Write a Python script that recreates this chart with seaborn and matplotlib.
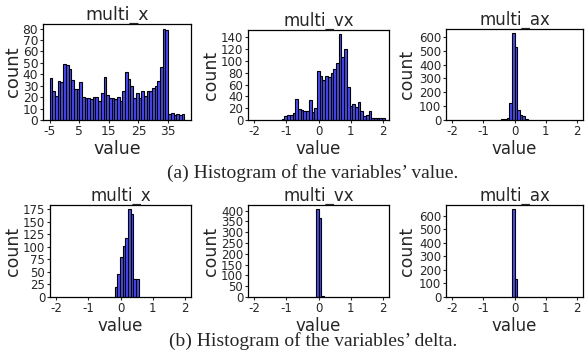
import numpy as np
import pandas as pd
import seaborn as sns
import matplotlib
matplotlib.use("Agg")
import matplotlib.pyplot as plt

# ---------------- data ----------------
# (a) histograms of the variables' value
value_x_range = [-5.0, 40.5]
value_x_counts = [37, 25, 21, 34, 33, 49, 48, 45, 35, 27,
                  27, 33, 20, 19, 19, 18, 20, 20, 17, 24,
                  38, 22, 19, 19, 18, 20, 17, 25, 42, 36,
                  30, 19, 24, 19, 25, 21, 25, 25, 28, 30,
                  34, 46, 80, 79, 5, 6, 4, 5, 4, 5]

value_vx_range = [-1.15, 2.07]
value_vx_counts = [2, 6, 9, 8, 12, 35, 18, 17, 15, 15,
                   33, 14, 20, 83, 74, 68, 75, 73, 80, 87,
                   96, 145, 107, 120, 55, 23, 27, 22, 31, 16,
                   7, 8, 16, 3, 3, 4, 4, 3]

value_ax_range = [-0.42, 0.42]
value_ax_counts = [4, 8, 12, 125, 625, 530, 75, 38, 27, 8]

# (b) histograms of the variables' delta
delta_x_range = [-0.18, 0.57]
delta_x_counts = [19, 46, 79, 102, 117, 175, 165, 35, 36]

delta_vx_range = [-0.084, 0.168]
delta_vx_counts = [406, 367, 6]

delta_ax_range = [-0.084, 0.168]
delta_ax_counts = [648, 133, 3]

titles = ["multi_x", "multi_vx", "multi_ax"]
x_label = "value"
y_label = "count"
caption_a = "(a) Histogram of the variables\u2019 value."
caption_b = "(b) Histogram of the variables\u2019 delta."

# ---------------- drawing ----------------
sns.set_theme(style="ticks")
plt.rcParams["font.family"] = ["DejaVu Sans"]
plt.rcParams["axes.unicode_minus"] = False

W, H = 585, 360
fig = plt.figure(figsize=(W / 100, H / 100), dpi=100)


def add_ax(l, t, r, b):
    return fig.add_axes([l / W, 1 - b / H, (r - l) / W, (b - t) / H])


def hist(ax, rng, counts, title, ylab_x, xticks=None, yticks=None,
         xlim=None, fs_title=12, fs_lab=12, fs_tick=8.5):
    n = len(counts)
    edges = [float(e) for e in np.linspace(rng[0], rng[1], n + 1)]
    centers = [(edges[i] + edges[i + 1]) / 2 for i in range(n)]
    df = pd.DataFrame({"value": centers, "count": counts})
    sns.histplot(data=df, x="value", weights="count", bins=edges, ax=ax,
                 color="#1010f0", edgecolor="black", alpha=0.75,
                 linewidth=0.8)
    ax.set_title(title, fontsize=fs_title, pad=1.5)
    ax.set_xlabel(x_label, fontsize=fs_lab, labelpad=1.5)
    ax.set_ylabel(y_label, fontsize=fs_lab + 0.5)
    if xticks is not None:
        ax.set_xticks(xticks)
    if yticks is not None:
        ax.set_yticks(yticks)
    if xlim is not None:
        ax.set_xlim(xlim)
    ax.tick_params(labelsize=fs_tick, length=2.5, width=0.8, pad=1)
    for s in ax.spines.values():
        s.set_linewidth(0.9)
        s.set_color("black")
    # y label: right edge of its box at a given figure-pixel x
    bb = ax.get_position()
    l_px = bb.x0 * W
    w_px = bb.width * W
    ax.yaxis.set_label_coords((ylab_x - l_px) / w_px, 0.5)


sym = [-2, -1, 0, 1, 2]
lim = (-2.2, 2.2)

a1 = add_ax(43, 24, 191, 120)
hist(a1, value_x_range, value_x_counts, titles[0], 22,
     xticks=[-5, 5, 15, 25, 35], yticks=range(0, 81, 10),
     fs_title=12.5, fs_lab=12.5, fs_tick=8.8)
a2 = add_ax(248, 30, 389, 120)
hist(a2, value_vx_range, value_vx_counts, titles[1], 220,
     xticks=sym, yticks=range(0, 141, 20), xlim=lim)
a3 = add_ax(446, 29, 583, 120)
hist(a3, value_ax_range, value_ax_counts, titles[2], 416,
     xticks=sym, yticks=range(0, 601, 100), xlim=lim)

b1 = add_ax(50, 205, 191, 297)
hist(b1, delta_x_range, delta_x_counts, titles[0], 22,
     xticks=sym, yticks=range(0, 176, 25), xlim=lim)
b2 = add_ax(248, 205, 389, 297)
hist(b2, delta_vx_range, delta_vx_counts, titles[1], 220,
     xticks=sym, yticks=range(0, 401, 50), xlim=lim)
b3 = add_ax(446, 205, 583, 297)
hist(b3, delta_ax_range, delta_ax_counts, titles[2], 416,
     xticks=sym, yticks=range(0, 601, 100), xlim=lim)

fig.text(313 / W, 1 - 173 / H, caption_a, ha="center", va="center",
         family="Liberation Serif", fontsize=14)
fig.text(313 / W, 1 - 341 / H, caption_b, ha="center", va="center",
         family="Liberation Serif", fontsize=14)

fig.savefig("out.png", dpi=100)
